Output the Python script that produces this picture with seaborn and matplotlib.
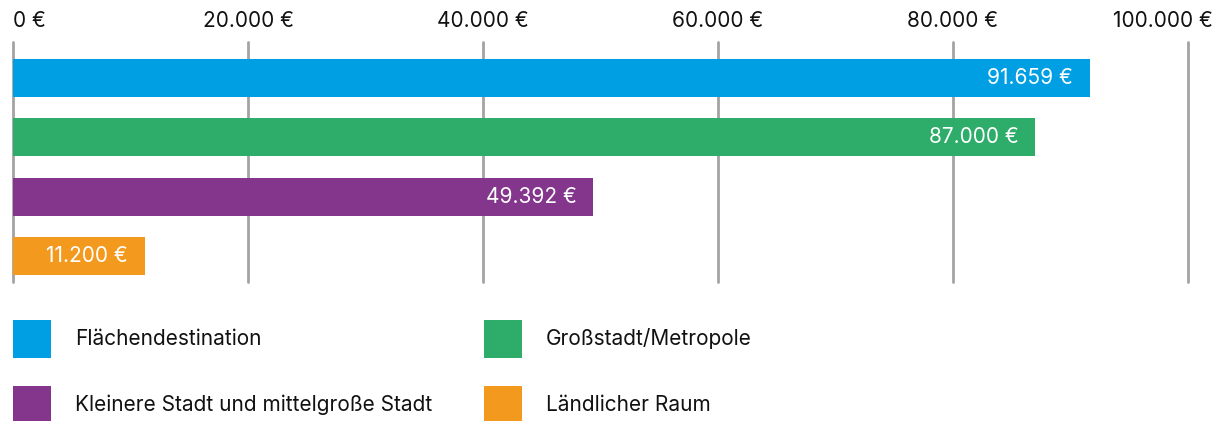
import matplotlib
matplotlib.use("Agg")
import matplotlib.pyplot as plt
import matplotlib.transforms as mtransforms
from matplotlib.patches import Patch
import seaborn as sns
import pandas as pd

# Data
categories = ["Flächendestination", "Großstadt/Metropole",
              "Kleinere Stadt und mittelgroße Stadt", "Ländlicher Raum"]
values = [91659, 87000, 49392, 11200]
colors = ["#009FE3", "#2EAD6A", "#83368C", "#F39A1E"]
tick_values = [0, 20000, 40000, 60000, 80000, 100000]


def euro(v):
    return f"{v:,.0f}".replace(",", ".") + " €"


sns.set_theme(style="white")
plt.rcParams["font.family"] = ["Inter", "DejaVu Sans"]
FS = 15
TEXT = "#111111"

df = pd.DataFrame({"Kategorie": categories, "Wert": values})

fig = plt.figure(figsize=(12.23, 4.21), dpi=100)
W, H = 1223, 421
ax = fig.add_axes([13 / W, 1 - 282 / H, (1188 - 13) / W, (282 - 42) / H])

sns.barplot(data=df, x="Wert", y="Kategorie", hue="Kategorie",
            palette=colors, orient="h", width=0.64, ax=ax,
            legend=False, saturation=1, linewidth=0, zorder=3)

ax.set_xlim(0, 100000)
ax.set_ylim(3.44, -0.607)
ax.set_xticks(tick_values)
ax.set_xticklabels([euro(v) for v in tick_values])
ax.xaxis.tick_top()
ax.tick_params(axis="x", length=0, pad=8, labelsize=FS, labelcolor=TEXT)
ax.set_yticks([])
ax.set_xlabel("")
ax.set_ylabel("")
for s in ax.spines.values():
    s.set_visible(False)
ax.grid(axis="x", color="#a3a3a3", linewidth=2, zorder=0)
ax.set_axisbelow(True)
for gl in ax.xaxis.get_gridlines():
    gl.set_clip_on(False)

# Value labels inside the bar ends
for cont in ax.containers:
    txts = ax.bar_label(cont, labels=[euro(v) for v in cont.datavalues],
                        padding=-12.2, color="white", fontsize=FS)
    for t in txts:
        t.set_ha("right")

handles = [Patch(facecolor=c, edgecolor="none") for c in colors]
order = [0, 2, 1, 3]
fig.legend([handles[i] for i in order], [categories[i] for i in order],
           ncol=2, loc="upper left", bbox_to_anchor=(13 / W, 1 - 320 / H),
           frameon=False, fontsize=FS, handlelength=1.83, handleheight=2.43,
           handletextpad=1.15, labelspacing=1.32, columnspacing=2.47,
           borderpad=0, borderaxespad=0, labelcolor=TEXT)

# Keep the outermost tick labels inside the canvas
top_ticks = ax.xaxis.get_major_ticks()
first, last = top_ticks[0].label2, top_ticks[-1].label2
first.set_ha("left")
last.set_ha("right")
last.set_transform(last.get_transform() +
                   mtransforms.ScaledTranslation(25 / 100, 0, fig.dpi_scale_trans))

fig.savefig("out.png", dpi=100)
